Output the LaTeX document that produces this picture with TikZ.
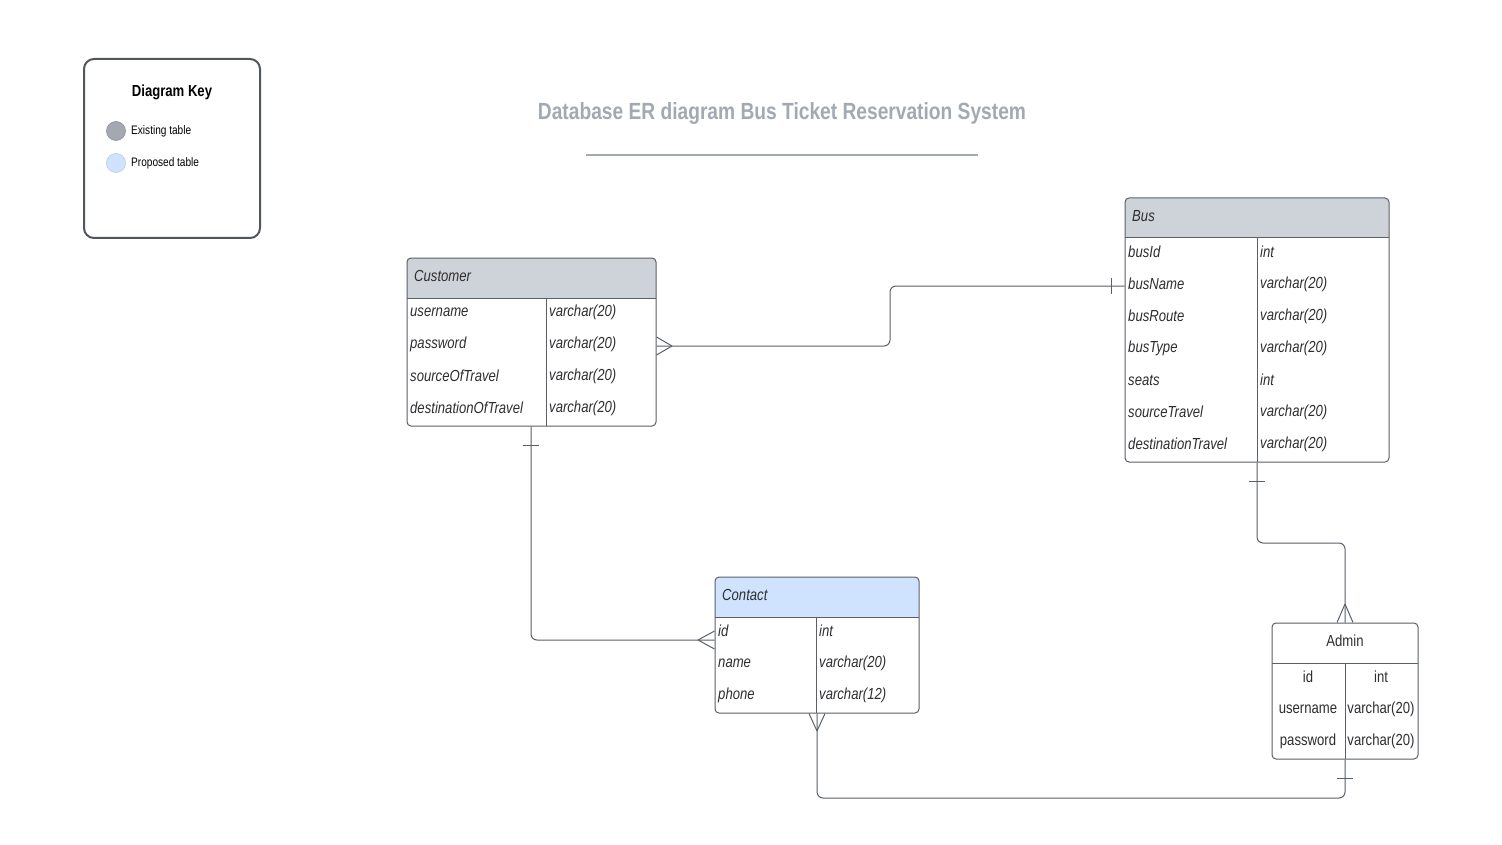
\documentclass[tikz,border=0pt]{standalone}
\usepackage{fontspec}
\setmainfont{Liberation Sans}[FakeStretch=0.82]
\definecolor{linec}{HTML}{5A6069}
\definecolor{hdrgray}{HTML}{CED3DA}
\definecolor{hdrblue}{HTML}{CFE3FF}
\definecolor{txt}{HTML}{2E2E2E}
\definecolor{titlec}{HTML}{A3A9B3}
\definecolor{keygray}{HTML}{A4A9B1}
\definecolor{keyblue}{HTML}{CFE3FF}
\definecolor{keybluel}{HTML}{B5C9E6}
\tikzset{
  tbl/.style={draw=linec, line width=1pt, rounded corners=4pt, inner sep=0pt},
  cell/.style={anchor=west, inner sep=0pt, text=txt, font=\fontsize{16}{19}\selectfont\itshape},
  ccell/.style={inner sep=0pt, text=txt, font=\fontsize{16}{19}\selectfont},
  conn/.style={draw=linec, line width=1pt, rounded corners=6pt},
  tick/.style={draw=linec, line width=1pt},
}
\newcommand\hdrclip[5]{% x1 y1 x2 y2 fill
  \begin{scope}
    \clip[rounded corners=4pt] (#1,#2) rectangle (#3,#4);
    \fill[#5] (#1,#2) rectangle (#3,#2+40);
  \end{scope}}
\begin{document}
\begin{tikzpicture}[x=1pt,y=-1pt]
\useasboundingbox (0,0) rectangle (1502,845);
\fill[white] (0,0) rectangle (1502,845);

% Legend
\node[draw=linec!90!black, line width=2pt, rounded corners=10pt, minimum width=176pt, minimum height=179pt, inner sep=0pt] (key) at (172,148.5) {};
\node[font=\fontsize{16}{19}\selectfont\bfseries, text=black, inner sep=0pt] (keytitle) at (172,92) {Diagram Key};
\node[circle, fill=keygray, draw=keygray!85!black, line width=0.6pt, minimum size=19pt, inner sep=0pt] (kc1) at (116,131) {};
\node[circle, fill=keyblue, draw=keybluel, line width=0.6pt, minimum size=19pt, inner sep=0pt] (kc2) at (116,163) {};
\node[anchor=west, font=\fontsize{12.3}{14}\selectfont, text=black, inner sep=0pt] (k1) at (131,131) {Existing table};
\node[anchor=west, font=\fontsize{12.3}{14}\selectfont, text=black, inner sep=0pt] (k2) at (131,163) {Proposed table};

% Title
\node[font=\fontsize{23.4}{27}\selectfont\bfseries, text=titlec, inner sep=0pt] (title) at (782,114) {Database ER diagram Bus Ticket Reservation System};
\coordinate (tl1) at (586,155);
\coordinate (tl2) at (978,155);
\draw[titlec, line width=2pt] (tl1) -- (tl2);

% Customer
\hdrclip{407}{258}{656}{426}{hdrgray}
\node[tbl, minimum width=249pt, minimum height=168pt] (cust) at (531.5,342) {};
\draw[linec, line width=1pt] (407,298) -- (656,298);
\draw[linec, line width=1pt] (546,298) -- (546,426);
\node[cell] (custh) at (414,276) {Customer};
\node[cell] (cu1) at (410,312) {username};
\node[cell] (cu2) at (410,344) {password};
\node[cell] (cu3) at (410,376) {sourceOfTravel};
\node[cell] (cu4) at (410,408) {destinationOfTravel};
\node[cell] (ct1) at (549,312) {varchar(20)};
\node[cell] (ct2) at (549,344) {varchar(20)};
\node[cell] (ct3) at (549,376) {varchar(20)};
\node[cell] (ct4) at (549,408) {varchar(20)};

% Bus
\hdrclip{1125}{198}{1389}{462}{hdrgray}
\node[tbl, minimum width=264pt, minimum height=264pt] (bus) at (1257,330) {};
\draw[linec, line width=1pt] (1125,238) -- (1389,238);
\draw[linec, line width=1pt] (1257,238) -- (1257,462);
\node[cell] (bush) at (1132,216) {Bus};
\node[cell] (b1) at (1128,252) {busId};
\node[cell] (b2) at (1128,284) {busName};
\node[cell] (b3) at (1128,316) {busRoute};
\node[cell] (b4) at (1128,348) {busType};
\node[cell] (b5) at (1128,380) {seats};
\node[cell] (b6) at (1128,412) {sourceTravel};
\node[cell] (b7) at (1128,444) {destinationTravel};
\node[cell] (bt1) at (1260,252) {int};
\node[cell] (bt2) at (1260,284) {varchar(20)};
\node[cell] (bt3) at (1260,316) {varchar(20)};
\node[cell] (bt4) at (1260,348) {varchar(20)};
\node[cell] (bt5) at (1260,380) {int};
\node[cell] (bt6) at (1260,412) {varchar(20)};
\node[cell] (bt7) at (1260,444) {varchar(20)};

% Contact
\hdrclip{715}{577}{919}{713}{hdrblue}
\node[tbl, minimum width=204pt, minimum height=136pt] (cont) at (817,645) {};
\draw[linec, line width=1pt] (715,617) -- (919,617);
\draw[linec, line width=1pt] (816,617) -- (816,713);
\node[cell] (conth) at (722,595) {Contact};
\node[cell] (co1) at (718,631) {id};
\node[cell] (co2) at (718,663) {name};
\node[cell] (co3) at (718,695) {phone};
\node[cell] (cot1) at (819,631) {int};
\node[cell] (cot2) at (819,663) {varchar(20)};
\node[cell] (cot3) at (819,695) {varchar(12)};

% Admin
\node[tbl, minimum width=146pt, minimum height=136pt] (adm) at (1345,691) {};
\draw[linec, line width=1pt] (1272,663) -- (1418,663);
\draw[linec, line width=1pt] (1345,663) -- (1345,759);
\node[ccell] (admh) at (1345,641) {Admin};
\node[ccell] (a1) at (1308,677) {id};
\node[ccell] (a2) at (1308,709) {username};
\node[ccell] (a3) at (1308,741) {password};
\node[ccell] (at1) at (1381,677) {int};
\node[ccell] (at2) at (1381,709) {varchar(20)};
\node[ccell] (at3) at (1381,741) {varchar(20)};

% Connector 1: Customer (many) -- Bus (one)
\coordinate (c1a) at (cust.east |- 0,346);
\coordinate (c1b) at (bus.west |- 0,286);
\draw[conn] (c1a) -- (890,346) -- (890,286) -- (c1b);
\coordinate (c1apex) at (672,346);
\draw[tick] (c1apex) -- ([yshift=-9pt]c1a);
\draw[tick] (c1apex) -- ([yshift=9pt]c1a);
\draw[tick] (1111,278) -- (1111,294);

% Connector 2: Customer (one) -- Contact (many)
\coordinate (c2a) at (cust.south -| 531,0);
\coordinate (c2b) at (cont.west |- 0,640);
\draw[conn] (c2a) -- (531,640) -- (c2b);
\draw[tick] (523,445) -- (539,445);
\coordinate (c2apex) at (698,640);
\draw[tick] (c2apex) -- ([yshift=-9pt]c2b);
\draw[tick] (c2apex) -- ([yshift=9pt]c2b);

% Connector 3: Bus (one) -- Admin (many)
\coordinate (c3a) at (bus.south);
\coordinate (c3b) at (adm.north);
\draw[conn] (c3a) -- (1257,543) -- (1345,543) -- (c3b);
\draw[tick] (1249,481) -- (1265,481);
\coordinate (c3apex) at (1345,604);
\draw[tick] (c3apex) -- ([xshift=-8pt]c3b);
\draw[tick] (c3apex) -- ([xshift=8pt]c3b);

% Connector 4: Contact (many) -- Admin (one)
\coordinate (c4a) at (cont.south);
\coordinate (c4b) at (adm.south);
\draw[conn] (c4a) -- (817,798) -- (1345,798) -- (c4b);
\coordinate (c4apex) at (817,731);
\draw[tick] (c4apex) -- ([xshift=-8pt]c4a);
\draw[tick] (c4apex) -- ([xshift=8pt]c4a);
\draw[tick] (1337,778) -- (1353,778);
\end{tikzpicture}
\end{document}
